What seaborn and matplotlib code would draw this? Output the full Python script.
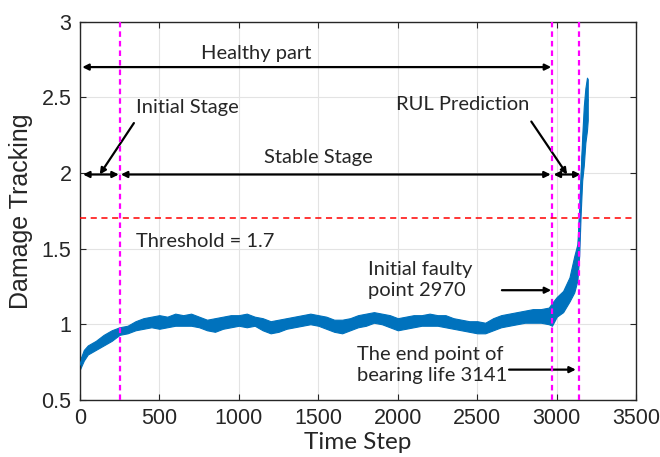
import numpy as np
import pandas as pd
import matplotlib
matplotlib.use("Agg")
import matplotlib.pyplot as plt
import seaborn as sns

# ---- data (envelope of the noisy damage-tracking band) ----
steps = [0, 25, 50, 100, 150, 200, 250, 300, 350, 400, 450, 500, 550, 600, 650, 700,
         750, 800, 850, 900, 950, 1000, 1050, 1100, 1150, 1200, 1250, 1300, 1350, 1400,
         1450, 1500, 1550, 1600, 1650, 1700, 1750, 1800, 1850, 1900, 1950, 2000, 2050,
         2100, 2150, 2200, 2250, 2300, 2350, 2400, 2450, 2500, 2550, 2600, 2650, 2700,
         2750, 2800, 2850, 2900, 2950, 2970, 3000, 3040, 3080, 3110, 3130, 3141, 3150,
         3160, 3170, 3180, 3190, 3195]
track_low = [0.70, 0.76, 0.80, 0.83, 0.86, 0.89, 0.93, 0.94, 0.96, 0.97, 0.98, 0.97,
             0.98, 0.99, 0.99, 0.99, 0.98, 0.96, 0.95, 0.97, 0.98, 0.99, 0.98, 0.99,
             0.96, 0.94, 0.95, 0.97, 0.98, 0.99, 1.00, 0.99, 0.97, 0.95, 0.94, 0.96,
             0.98, 0.99, 1.01, 1.00, 0.98, 0.96, 0.97, 0.98, 0.99, 0.99, 0.99, 0.98,
             0.97, 0.96, 0.95, 0.94, 0.94, 0.96, 0.98, 0.99, 1.00, 1.01, 1.01, 1.01,
             1.00, 0.99, 1.05, 1.08, 1.15, 1.21, 1.29, 1.45, 1.72, 1.95, 2.05, 2.20,
             2.28, 2.35]
track_high = [0.76, 0.83, 0.86, 0.89, 0.93, 0.96, 0.98, 0.99, 1.02, 1.04, 1.05, 1.06,
              1.05, 1.07, 1.06, 1.07, 1.05, 1.03, 1.04, 1.05, 1.06, 1.06, 1.07, 1.05,
              1.04, 1.02, 1.03, 1.04, 1.05, 1.06, 1.07, 1.06, 1.05, 1.03, 1.03, 1.04,
              1.06, 1.07, 1.08, 1.07, 1.06, 1.04, 1.05, 1.06, 1.06, 1.07, 1.06, 1.06,
              1.04, 1.03, 1.02, 1.02, 1.01, 1.04, 1.06, 1.07, 1.08, 1.09, 1.10, 1.10,
              1.11, 1.14, 1.18, 1.22, 1.31, 1.45, 1.53, 1.76, 1.98, 2.24, 2.44, 2.56,
              2.63, 2.62]

stage_lines = [250, 2970, 3141]
threshold = 1.7
x_ticks = [0, 500, 1000, 1500, 2000, 2500, 3000, 3500]
y_ticks = [0.5, 1, 1.5, 2, 2.5, 3]
y_tick_labels = ["0.5", "1", "1.5", "2", "2.5", "3"]

df = pd.DataFrame({
    "step": steps + steps,
    "value": track_low + track_high,
})

sns.set_theme(style="white")
plt.rcParams["font.family"] = ["Lato", "DejaVu Sans"]

fig = plt.figure(figsize=(6.6, 4.57), dpi=100)
ax = fig.add_axes([0.121, 0.125, 0.843, 0.8275])

blue = "#0072BD"
sns.lineplot(data=df, x="step", y="value", estimator="mean", errorbar=("pi", 100),
             color=blue, linewidth=1.2, err_kws={"alpha": 1, "linewidth": 0.8,
                                                 "edgecolor": blue}, ax=ax, zorder=3)

for s in stage_lines:
    ax.axvline(s, color="#ff00ff", linestyle=(0, (2.5, 1.8)), linewidth=1.6, zorder=4)
ax.axhline(threshold, color="red", linestyle=(0, (4, 3)), linewidth=1.1, zorder=4)

ax.set_xlim(0, 3500)
ax.set_ylim(0.5, 3)
ax.set_xticks(x_ticks)
ax.set_yticks(y_ticks)
ax.set_xticklabels([str(t) for t in x_ticks])
ax.set_yticklabels(y_tick_labels)
ax.grid(True, color="#e3e3e3", linewidth=0.8)
ax.set_axisbelow(True)
ax.tick_params(direction="in", length=4, width=0.8, top=True, right=True,
               bottom=True, left=True, colors="#262626", labelsize=15.5, pad=6)
for lab in ax.get_xticklabels() + ax.get_yticklabels():
    lab.set_family(["Liberation Sans", "DejaVu Sans"])
    lab.set_color("#262626")
for sp in ax.spines.values():
    sp.set_visible(True)
    sp.set_color("#262626")
    sp.set_linewidth(1.0)

ax.set_xlabel("Time Step", fontsize=17.5, color="#262626", labelpad=2)
ax.set_ylabel("Damage Tracking", fontsize=18, color="#262626", labelpad=6,
              family=["Liberation Sans", "DejaVu Sans"])

tfs = 14.5
dbl = dict(arrowstyle="<|-|>", color="black", lw=1.6, mutation_scale=9,
           shrinkA=0, shrinkB=0)
one = dict(arrowstyle="-|>", color="black", lw=1.6, mutation_scale=9,
           shrinkA=0, shrinkB=0)

# Healthy part
ax.annotate("", xy=(15, 2.7), xytext=(2965, 2.7), arrowprops=dbl)
ax.text(1110, 2.79, "Healthy part", fontsize=tfs, ha="center", va="center")
# Initial stage
ax.annotate("", xy=(20, 1.99), xytext=(245, 1.99), arrowprops=dbl)
ax.annotate("", xy=(125, 1.99), xytext=(340, 2.33), arrowprops=one)
ax.text(355, 2.43, "Initial Stage", fontsize=tfs, ha="left", va="center")
# Stable stage
ax.annotate("", xy=(258, 1.99), xytext=(2962, 1.99), arrowprops=dbl)
ax.text(1500, 2.1, "Stable Stage", fontsize=tfs, ha="center", va="center")
# RUL prediction
ax.annotate("", xy=(2980, 1.99), xytext=(3150, 1.99), arrowprops=dbl)
ax.annotate("", xy=(3065, 1.99), xytext=(2840, 2.34), arrowprops=one)
ax.text(2410, 2.45, "RUL Prediction", fontsize=tfs, ha="center", va="center")
# Threshold
ax.text(355, 1.545, "Threshold = 1.7", fontsize=tfs, ha="left", va="center")
# Initial faulty point
ax.text(1815, 1.29, "Initial faulty\npoint 2970", fontsize=tfs, ha="left",
        va="center", linespacing=1.3)
ax.annotate("", xy=(2965, 1.225), xytext=(2655, 1.225), arrowprops=one)
# End point
ax.text(1745, 0.73, "The end point of\nbearing life 3141", fontsize=tfs, ha="left",
        va="center", linespacing=1.3)
ax.annotate("", xy=(3120, 0.70), xytext=(2700, 0.70), arrowprops=one)

fig.savefig("out.png", dpi=100)
